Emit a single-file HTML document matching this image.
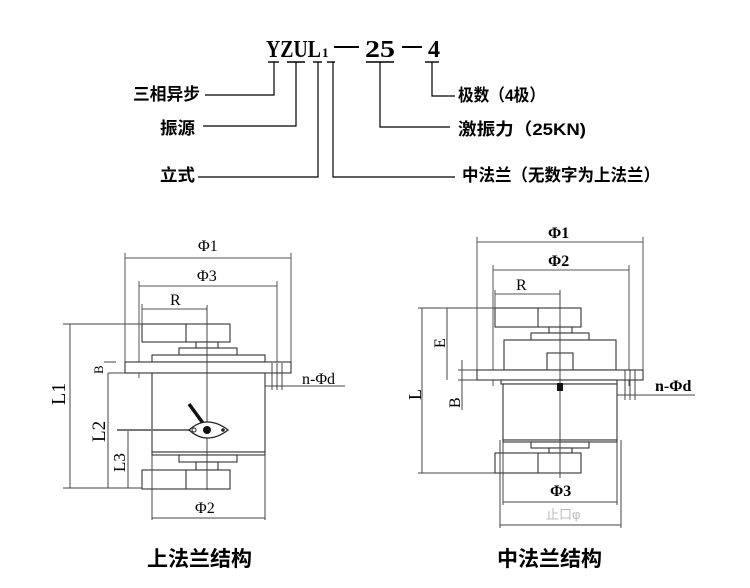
<!DOCTYPE html>
<html><head><meta charset="utf-8"><style>
html,body{margin:0;padding:0;background:#fff;}
svg{display:block;}
.t{font-family:"Liberation Serif","Noto Serif CJK SC",serif;}
.c{font-family:"Liberation Sans","Noto Sans CJK SC",sans-serif;}
</style></head><body>
<svg width="750" height="588" viewBox="0 0 750 588" xmlns="http://www.w3.org/2000/svg">
<rect width="750" height="588" fill="#fff"/>
<g class="t" fill="#000" font-weight="bold">
<text x="266" y="57" font-size="24" textLength="55" lengthAdjust="spacingAndGlyphs">YZUL</text>
<text x="322" y="57" font-size="13">1</text>
<text x="365" y="57" font-size="24" textLength="30" lengthAdjust="spacingAndGlyphs">25</text>
<text x="428" y="57" font-size="24">4</text>
</g>
<g stroke="#000" stroke-width="2" fill="none">
<line x1="334" y1="47" x2="359" y2="47"/>
<line x1="402" y1="47" x2="422" y2="47"/>
</g>
<g stroke="#000" stroke-width="1.4" fill="none">
<line x1="268" y1="62" x2="279" y2="62"/>
<line x1="287" y1="62" x2="305" y2="62"/>
<line x1="313" y1="62" x2="322" y2="62"/>
<line x1="327" y1="62" x2="335" y2="62"/>
<line x1="366" y1="62" x2="394" y2="62"/>
<line x1="425" y1="62" x2="439" y2="62"/>
</g>
<g stroke="#000" stroke-width="1.2" fill="none">
<polyline points="274,62 274,95 205,95"/>
<polyline points="296,62 296,126 203,126"/>
<polyline points="318,62 318,177 198,177"/>
<polyline points="333,62 333,177 455,177"/>
<polyline points="380,62 380,127 450,127"/>
<polyline points="432,62 432,96 455,96"/>
</g>
<g class="c" font-size="17" font-weight="bold" fill="#000">
<text x="133" y="100" textLength="67" lengthAdjust="spacingAndGlyphs">三相异步</text>
<text x="160" y="134" textLength="35" lengthAdjust="spacingAndGlyphs">振源</text>
<text x="160" y="181" textLength="35" lengthAdjust="spacingAndGlyphs">立式</text>
<text x="458" y="101" textLength="87" lengthAdjust="spacingAndGlyphs">极数（4极）</text>
<text x="458" y="135" textLength="128" lengthAdjust="spacingAndGlyphs">激振力（25KN)</text>
<text x="462" y="181" textLength="198" lengthAdjust="spacingAndGlyphs">中法兰（无数字为上法兰）</text>
</g>

<!-- Left drawing -->
<g stroke="#555" stroke-width="1" fill="none">
<line x1="125" y1="258" x2="291" y2="258"/>
<line x1="125" y1="253" x2="125" y2="373"/>
<line x1="291" y1="253" x2="291" y2="373"/>
<line x1="139" y1="286" x2="277" y2="286"/>
<line x1="139" y1="281" x2="139" y2="378"/>
<line x1="277" y1="281" x2="277" y2="378"/>
<line x1="142" y1="309" x2="207" y2="309"/>
<line x1="142" y1="304" x2="142" y2="324"/>
</g>
<g stroke="#333" stroke-width="1.1" fill="#fff">
<rect x="142" y="324" width="88" height="18"/>
<line x1="186" y1="324" x2="186" y2="342"/>
<rect x="196" y="342" width="22" height="6"/>
<rect x="179" y="348" width="58" height="7"/>
<rect x="152" y="355" width="113" height="7"/>
<rect x="125" y="362" width="166" height="11"/>
<rect x="152" y="373" width="113" height="79"/>
<rect x="152" y="452" width="113" height="3"/>
<rect x="179" y="455" width="58" height="7"/>
<rect x="196" y="462" width="22" height="8"/>
<rect x="142" y="470" width="88" height="19"/>
<line x1="186" y1="470" x2="186" y2="489"/>
</g>
<g stroke="#444" stroke-width="1" fill="none">
<line x1="207" y1="305" x2="207" y2="490"/>
<line x1="152" y1="455" x2="152" y2="520"/>
<line x1="265" y1="455" x2="265" y2="520"/>
<line x1="152" y1="518" x2="265" y2="518"/>
<line x1="70" y1="324" x2="70" y2="488"/>
<line x1="63" y1="324" x2="142" y2="324"/>
<line x1="63" y1="488" x2="142" y2="488"/>
<line x1="108" y1="373" x2="108" y2="488"/>
<line x1="108" y1="373" x2="125" y2="373"/>
<line x1="104" y1="362" x2="116" y2="362"/>
<line x1="128" y1="430" x2="128" y2="488"/>
<line x1="272" y1="363" x2="272" y2="390"/>
<line x1="277" y1="363" x2="277" y2="390"/>
<line x1="282" y1="363" x2="282" y2="390"/>
<line x1="265" y1="386" x2="345" y2="386"/>
</g>
<line x1="117" y1="430" x2="195" y2="430" stroke="#777" stroke-width="2"/>
<line x1="189" y1="404" x2="208" y2="430" stroke="#111" stroke-width="3.5"/>
<path d="M189,430 Q198,422 207,422 Q218,422 228,430 Q218,438 207,438 Q198,438 189,430Z" fill="#fff" stroke="#222" stroke-width="1.2"/>
<circle cx="207" cy="430" r="4" fill="#111"/>
<circle cx="194" cy="430" r="2" fill="none" stroke="#222"/>
<circle cx="223" cy="430" r="1.8" fill="#222"/>
<g class="t" fill="#000" font-size="16">
<text x="198" y="251">Φ1</text>
<text x="197" y="281">Φ3</text>
<text x="170" y="305">R</text>
<text x="195" y="513">Φ2</text>
<text x="302" y="384">n-Φd</text>
<text transform="translate(65,405) rotate(-90)" font-size="20">L1</text>
<text transform="translate(105,442) rotate(-90)" font-size="19">L2</text>
<text transform="translate(125,472) rotate(-90)" font-size="17">L3</text>
<text transform="translate(103,374) rotate(-90)" font-size="13">B</text>
</g>
<text x="147" y="566" class="c" font-size="21" font-weight="bold">上法兰结构</text>

<!-- Right drawing -->
<g stroke="#555" stroke-width="1" fill="none">
<line x1="477" y1="242" x2="643" y2="242"/>
<line x1="477" y1="237" x2="477" y2="370"/>
<line x1="643" y1="237" x2="643" y2="370"/>
<line x1="493" y1="270" x2="629" y2="270"/>
<line x1="493" y1="265" x2="493" y2="386"/>
<line x1="629" y1="265" x2="629" y2="386"/>
<line x1="495" y1="294" x2="560" y2="294"/>
<line x1="495" y1="290" x2="495" y2="308"/>
</g>
<g stroke="#333" stroke-width="1.1" fill="#fff">
<rect x="495" y="308" width="86" height="19"/>
<line x1="538" y1="308" x2="538" y2="327"/>
<rect x="549" y="327" width="23" height="6"/>
<rect x="531" y="333" width="58" height="7"/>
<rect x="504" y="340" width="112" height="30"/>
<rect x="547" y="353" width="26" height="17"/>
<rect x="477" y="370" width="166" height="10"/>
<rect x="501" y="380" width="116" height="4"/>
<rect x="503" y="384" width="114" height="56"/>
<rect x="503" y="440" width="114" height="2"/>
<rect x="531" y="442" width="58" height="6"/>
<rect x="549" y="448" width="23" height="5"/>
<rect x="495" y="453" width="86" height="20"/>
<line x1="538" y1="453" x2="538" y2="473"/>
</g>
<g stroke="#444" stroke-width="1" fill="none">
<line x1="560" y1="290" x2="560" y2="478"/>
<line x1="503" y1="442" x2="503" y2="505"/>
<line x1="617" y1="442" x2="617" y2="505"/>
<line x1="503" y1="502" x2="617" y2="502"/>
<line x1="500" y1="440" x2="500" y2="528"/>
<line x1="621" y1="440" x2="621" y2="528"/>
<line x1="500" y1="525" x2="621" y2="525"/>
<line x1="422" y1="308" x2="422" y2="473"/>
<line x1="418" y1="308" x2="495" y2="308"/>
<line x1="418" y1="473" x2="495" y2="473"/>
<line x1="447" y1="308" x2="447" y2="380"/>
<line x1="462" y1="360" x2="462" y2="410"/>
<line x1="458" y1="370" x2="477" y2="370"/>
<line x1="458" y1="380" x2="477" y2="380"/>
<line x1="625" y1="370" x2="625" y2="400"/>
<line x1="630" y1="370" x2="630" y2="400"/>
<line x1="635" y1="370" x2="635" y2="400"/>
<line x1="617" y1="395" x2="695" y2="395"/>
</g>
<rect x="557" y="383" width="6" height="8" fill="#111"/>
<g class="t" fill="#000" font-size="16" font-weight="bold">
<text x="548" y="238">Φ1</text>
<text x="548" y="266">Φ2</text>
<text x="516" y="290" font-weight="normal">R</text>
<text x="550" y="496">Φ3</text>
<text x="655" y="391">n-Φd</text>
<text transform="translate(421,400) rotate(-90)" font-weight="normal" font-size="18">L</text>
<text transform="translate(445,348) rotate(-90)" font-weight="normal" font-size="16">E</text>
<text transform="translate(460,408) rotate(-90)" font-weight="normal" font-size="16">B</text>
</g>
<text x="546" y="519" class="c" font-size="13" fill="#bbb">止口φ</text>
<text x="497" y="566" class="c" font-size="21" font-weight="bold">中法兰结构</text>
</svg>
</body></html>
